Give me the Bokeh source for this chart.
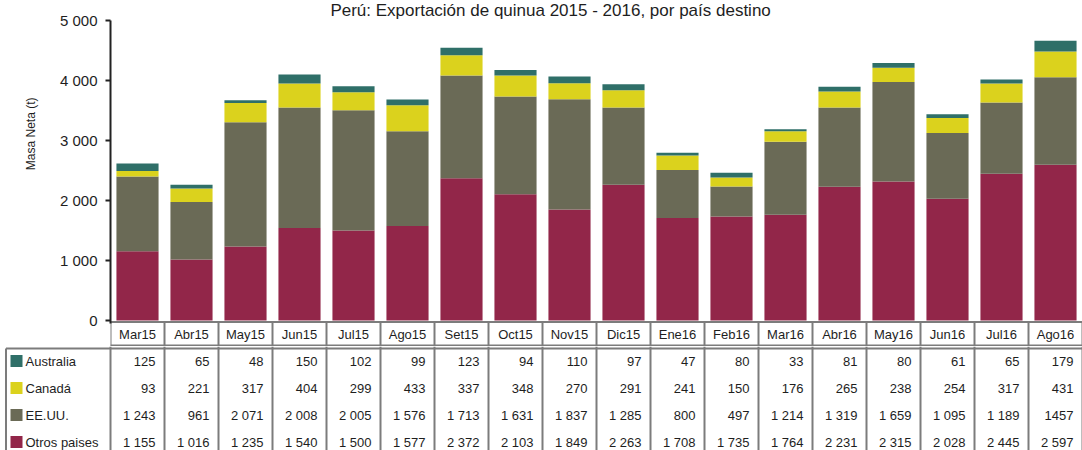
from bokeh.plotting import figure
from bokeh.models import ColumnDataSource, Range1d, FixedTicker, Label, Title
from bokeh.layouts import column
from bokeh.core.properties import value
from bokeh.embed import file_html
from bokeh.resources import INLINE

# ---------------- data ----------------
months = ["Mar15", "Abr15", "May15", "Jun15", "Jul15", "Ago15", "Set15", "Oct15", "Nov15",
          "Dic15", "Ene16", "Feb16", "Mar16", "Abr16", "May16", "Jun16", "Jul16", "Ago16"]
australia = [125, 65, 48, 150, 102, 99, 123, 94, 110, 97, 47, 80, 33, 81, 80, 61, 65, 179]
canada = [93, 221, 317, 404, 299, 433, 337, 348, 270, 291, 241, 150, 176, 265, 238, 254, 317, 431]
eeuu = [1243, 961, 2071, 2008, 2005, 1576, 1713, 1631, 1837, 1285, 800, 497, 1214, 1319, 1659,
        1095, 1189, 1457]
otros = [1155, 1016, 1235, 1540, 1500, 1577, 2372, 2103, 1849, 2263, 1708, 1735, 1764, 2231,
         2315, 2028, 2445, 2597]
series_names = ["Australia", "Canadá", "EE.UU.", "Otros paises"]
y_ticks = [0, 1000, 2000, 3000, 4000, 5000]
title_text = "Perú: Exportación de quinua 2015 - 2016, por país destino"
y_label = "Masa Neta (t)"
label_overrides = {("EE.UU.", "Ago16"): "1457"}

# ---------------- style ----------------
FONT = "Liberation Sans"
TXT = "#1e1e1e"
colors = {"Australia": "#2f6f68", "Canadá": "#dbd21d", "EE.UU.": "#6a6a56",
          "Otros paises": "#922649"}
GRID = "#7c7c7c"

W = 1082
TOP_H = 346          # chart + header row of the table
TAB_H = 104          # body rows of the table
ZERO_PX = 320        # pixel row of the value 0
PX_PER_VAL = 300 / 5000
LEFT = 110
n = len(months)
px_per_unit = (W - LEFT) / n
Y_START = -(TOP_H - ZERO_PX) / PX_PER_VAL
Y_END = 5000 + 20 / PX_PER_VAL

def fmt(v):
    return f"{v:,}".replace(",", " ")

# ---------------- chart ----------------
src = ColumnDataSource(dict(months=months, otros=otros, eeuu=eeuu, canada=canada,
                            australia=australia))

p = figure(width=W, height=TOP_H, x_range=months, y_range=Range1d(Y_START, Y_END),
           output_backend="svg", toolbar_location=None, x_axis_location=None,
           min_border_left=LEFT, min_border_right=0, min_border_top=0,
           min_border_bottom=0, outline_line_color=None, frame_align=False)
p.extra_y_ranges = {"px": Range1d(TOP_H, 0)}
stack_keys = ["otros", "eeuu", "canada", "australia"]
stack_cols = [colors["Otros paises"], colors["EE.UU."], colors["Canadá"], colors["Australia"]]
p.vbar_stack(stack_keys, x="months", width=0.78, color=stack_cols, line_color=None,
             source=src)

p.grid.visible = False
ya = p.yaxis[0]
ya.ticker = FixedTicker(ticks=y_ticks)
ya.major_label_overrides = {t: fmt(t) for t in y_ticks}
ya.bounds = (-50, 5000)
ya.axis_line_color = "#222222"
ya.axis_line_width = 2
ya.major_tick_line_color = "#222222"
ya.major_tick_line_width = 2
ya.major_tick_out = 5
ya.major_tick_in = 0
ya.minor_tick_line_color = None
ya.major_label_text_font = FONT
ya.major_label_text_font_size = "15px"
ya.major_label_text_color = TXT
ya.major_label_standoff = 8

# y-axis title as a side title, placed where the original has it
ytitle = Title(text=y_label, align="right", offset=97, text_font=FONT,
               text_font_size="12px", text_font_style="normal", text_color=TXT)
if "standoff" in Title.properties():
    ytitle.standoff = 37
p.add_layout(ytitle, "left")

p.add_layout(Label(x=8.15, y=Y_END, text=title_text, text_align="center",
                   text_baseline="top", y_offset=0, text_font=FONT,
                   text_font_size="17px", text_color=TXT))

# header row of the table (month labels), in pixel coordinates of the chart canvas
head_top, head_bot = 321.5, 345
vx = list(range(n + 1))
p.segment(x0=vx, y0=[head_top] * len(vx), x1=vx, y1=[TOP_H] * len(vx),
          line_color=GRID, line_width=2, y_range_name="px")
p.segment(x0=[0, 0], y0=[head_top, head_bot], x1=[n, n], y1=[head_top, head_bot],
          line_color=GRID, line_width=2, y_range_name="px")
p.text(x=months, y=[(head_top + head_bot) / 2 + 0.5] * n, text=months,
       text_align="center", text_baseline="middle", text_font=value(FONT),
       text_font_size="13px", text_color=TXT, y_range_name="px")

# ---------------- table body ----------------
xl = -LEFT / px_per_unit
t = figure(width=W, height=TAB_H, x_range=Range1d(xl, n), y_range=Range1d(TAB_H, 0),
           output_backend="svg", toolbar_location=None, x_axis_location=None,
           y_axis_location=None, min_border=0, outline_line_color=None, frame_align=False)
t.grid.visible = False

leg_left = xl + 5.5 / px_per_unit
body_top = 2
t.segment(x0=vx, y0=[0] * len(vx), x1=vx, y1=[TAB_H] * len(vx),
          line_color=GRID, line_width=2)
t.segment(x0=[leg_left, leg_left], y0=[body_top, body_top], x1=[n, leg_left],
          y1=[body_top, TAB_H], line_color=GRID, line_width=2)

rows = [("Australia", australia), ("Canadá", canada), ("EE.UU.", eeuu),
        ("Otros paises", otros)]
row_h = 27
pad = 9 / px_per_unit
for r, (name, vals) in enumerate(rows):
    yc = 14.5 + row_h * r
    labels = [label_overrides.get((name, m), fmt(v)) for m, v in zip(months, vals)]
    t.text(x=[i + 1 - pad for i in range(n)], y=[yc] * n, text=labels,
           text_align="right", text_baseline="middle", text_font=value(FONT),
           text_font_size="13px", text_color=TXT)
    t.scatter(x=[xl + 16 / px_per_unit], y=[yc], marker="square", size=12,
              fill_color=colors[name], line_color=None)
    t.text(x=[xl + 25 / px_per_unit], y=[yc], text=[name], text_align="left",
           text_baseline="middle", text_font=value(FONT), text_font_size="13px",
           text_color=TXT)

layout = column(p, t, spacing=0)
open("out.html", "w").write(file_html(layout, INLINE))
